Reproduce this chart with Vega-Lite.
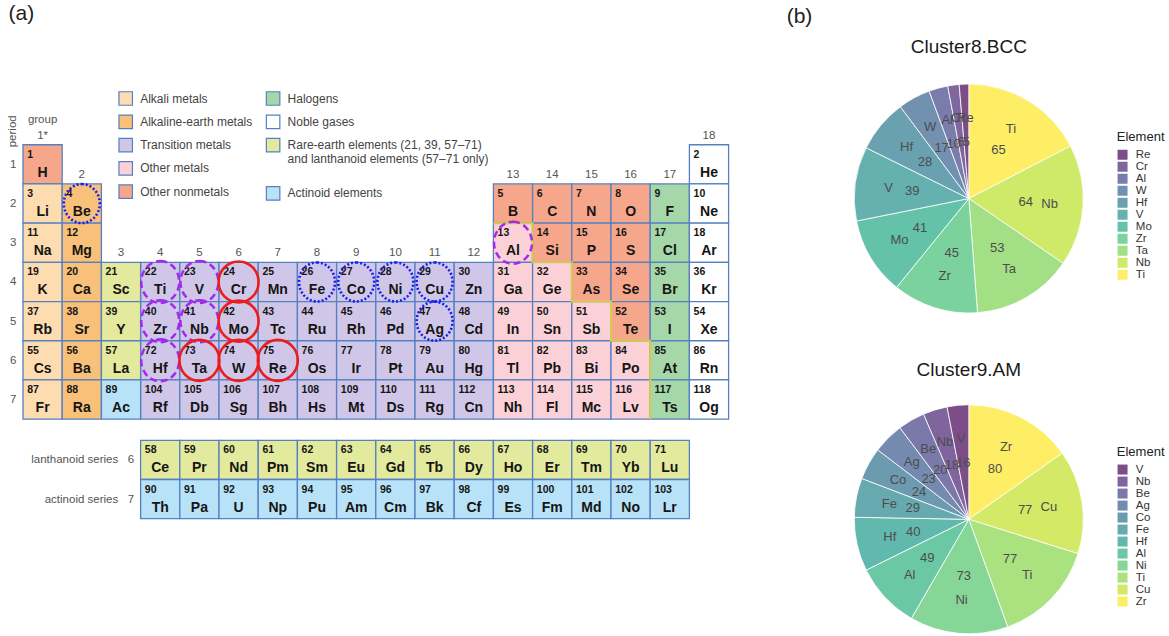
{
  "$schema": "https://vega.github.io/schema/vega-lite/v6.json",
  "background": "white",
  "padding": {"left": 6, "top": 3, "right": 0, "bottom": 0},
  "config": {
    "view": {"stroke": null},
    "font": "Liberation Sans",
    "title": {"font": "Liberation Sans", "fontWeight": "normal", "color": "#1a1a1a"},
    "legend": {"labelFont": "Liberation Sans", "titleFont": "Liberation Sans"},
    "axis": {"labelFont": "Liberation Sans", "titleFont": "Liberation Sans"}
  },
  "datasets": {
    "elements": [
      {"z": 1, "symbol": "H", "group": 1, "period": 1, "category": "Other nonmetals"},
      {"z": 2, "symbol": "He", "group": 18, "period": 1, "category": "Noble gases"},
      {"z": 3, "symbol": "Li", "group": 1, "period": 2, "category": "Alkali metals"},
      {"z": 4, "symbol": "Be", "group": 2, "period": 2, "category": "Alkaline-earth metals"},
      {"z": 5, "symbol": "B", "group": 13, "period": 2, "category": "Other nonmetals"},
      {"z": 6, "symbol": "C", "group": 14, "period": 2, "category": "Other nonmetals"},
      {"z": 7, "symbol": "N", "group": 15, "period": 2, "category": "Other nonmetals"},
      {"z": 8, "symbol": "O", "group": 16, "period": 2, "category": "Other nonmetals"},
      {"z": 9, "symbol": "F", "group": 17, "period": 2, "category": "Halogens"},
      {"z": 10, "symbol": "Ne", "group": 18, "period": 2, "category": "Noble gases"},
      {"z": 11, "symbol": "Na", "group": 1, "period": 3, "category": "Alkali metals"},
      {"z": 12, "symbol": "Mg", "group": 2, "period": 3, "category": "Alkaline-earth metals"},
      {"z": 13, "symbol": "Al", "group": 13, "period": 3, "category": "Other metals"},
      {"z": 14, "symbol": "Si", "group": 14, "period": 3, "category": "Other nonmetals"},
      {"z": 15, "symbol": "P", "group": 15, "period": 3, "category": "Other nonmetals"},
      {"z": 16, "symbol": "S", "group": 16, "period": 3, "category": "Other nonmetals"},
      {"z": 17, "symbol": "Cl", "group": 17, "period": 3, "category": "Halogens"},
      {"z": 18, "symbol": "Ar", "group": 18, "period": 3, "category": "Noble gases"},
      {"z": 19, "symbol": "K", "group": 1, "period": 4, "category": "Alkali metals"},
      {"z": 20, "symbol": "Ca", "group": 2, "period": 4, "category": "Alkaline-earth metals"},
      {"z": 21, "symbol": "Sc", "group": 3, "period": 4, "category": "Rare-earth elements"},
      {"z": 22, "symbol": "Ti", "group": 4, "period": 4, "category": "Transition metals"},
      {"z": 23, "symbol": "V", "group": 5, "period": 4, "category": "Transition metals"},
      {"z": 24, "symbol": "Cr", "group": 6, "period": 4, "category": "Transition metals"},
      {"z": 25, "symbol": "Mn", "group": 7, "period": 4, "category": "Transition metals"},
      {"z": 26, "symbol": "Fe", "group": 8, "period": 4, "category": "Transition metals"},
      {"z": 27, "symbol": "Co", "group": 9, "period": 4, "category": "Transition metals"},
      {"z": 28, "symbol": "Ni", "group": 10, "period": 4, "category": "Transition metals"},
      {"z": 29, "symbol": "Cu", "group": 11, "period": 4, "category": "Transition metals"},
      {"z": 30, "symbol": "Zn", "group": 12, "period": 4, "category": "Transition metals"},
      {"z": 31, "symbol": "Ga", "group": 13, "period": 4, "category": "Other metals"},
      {"z": 32, "symbol": "Ge", "group": 14, "period": 4, "category": "Other metals"},
      {"z": 33, "symbol": "As", "group": 15, "period": 4, "category": "Other nonmetals"},
      {"z": 34, "symbol": "Se", "group": 16, "period": 4, "category": "Other nonmetals"},
      {"z": 35, "symbol": "Br", "group": 17, "period": 4, "category": "Halogens"},
      {"z": 36, "symbol": "Kr", "group": 18, "period": 4, "category": "Noble gases"},
      {"z": 37, "symbol": "Rb", "group": 1, "period": 5, "category": "Alkali metals"},
      {"z": 38, "symbol": "Sr", "group": 2, "period": 5, "category": "Alkaline-earth metals"},
      {"z": 39, "symbol": "Y", "group": 3, "period": 5, "category": "Rare-earth elements"},
      {"z": 40, "symbol": "Zr", "group": 4, "period": 5, "category": "Transition metals"},
      {"z": 41, "symbol": "Nb", "group": 5, "period": 5, "category": "Transition metals"},
      {"z": 42, "symbol": "Mo", "group": 6, "period": 5, "category": "Transition metals"},
      {"z": 43, "symbol": "Tc", "group": 7, "period": 5, "category": "Transition metals"},
      {"z": 44, "symbol": "Ru", "group": 8, "period": 5, "category": "Transition metals"},
      {"z": 45, "symbol": "Rh", "group": 9, "period": 5, "category": "Transition metals"},
      {"z": 46, "symbol": "Pd", "group": 10, "period": 5, "category": "Transition metals"},
      {"z": 47, "symbol": "Ag", "group": 11, "period": 5, "category": "Transition metals"},
      {"z": 48, "symbol": "Cd", "group": 12, "period": 5, "category": "Transition metals"},
      {"z": 49, "symbol": "In", "group": 13, "period": 5, "category": "Other metals"},
      {"z": 50, "symbol": "Sn", "group": 14, "period": 5, "category": "Other metals"},
      {"z": 51, "symbol": "Sb", "group": 15, "period": 5, "category": "Other metals"},
      {"z": 52, "symbol": "Te", "group": 16, "period": 5, "category": "Other nonmetals"},
      {"z": 53, "symbol": "I", "group": 17, "period": 5, "category": "Halogens"},
      {"z": 54, "symbol": "Xe", "group": 18, "period": 5, "category": "Noble gases"},
      {"z": 55, "symbol": "Cs", "group": 1, "period": 6, "category": "Alkali metals"},
      {"z": 56, "symbol": "Ba", "group": 2, "period": 6, "category": "Alkaline-earth metals"},
      {"z": 57, "symbol": "La", "group": 3, "period": 6, "category": "Rare-earth elements"},
      {"z": 72, "symbol": "Hf", "group": 4, "period": 6, "category": "Transition metals"},
      {"z": 73, "symbol": "Ta", "group": 5, "period": 6, "category": "Transition metals"},
      {"z": 74, "symbol": "W", "group": 6, "period": 6, "category": "Transition metals"},
      {"z": 75, "symbol": "Re", "group": 7, "period": 6, "category": "Transition metals"},
      {"z": 76, "symbol": "Os", "group": 8, "period": 6, "category": "Transition metals"},
      {"z": 77, "symbol": "Ir", "group": 9, "period": 6, "category": "Transition metals"},
      {"z": 78, "symbol": "Pt", "group": 10, "period": 6, "category": "Transition metals"},
      {"z": 79, "symbol": "Au", "group": 11, "period": 6, "category": "Transition metals"},
      {"z": 80, "symbol": "Hg", "group": 12, "period": 6, "category": "Transition metals"},
      {"z": 81, "symbol": "Tl", "group": 13, "period": 6, "category": "Other metals"},
      {"z": 82, "symbol": "Pb", "group": 14, "period": 6, "category": "Other metals"},
      {"z": 83, "symbol": "Bi", "group": 15, "period": 6, "category": "Other metals"},
      {"z": 84, "symbol": "Po", "group": 16, "period": 6, "category": "Other metals"},
      {"z": 85, "symbol": "At", "group": 17, "period": 6, "category": "Halogens"},
      {"z": 86, "symbol": "Rn", "group": 18, "period": 6, "category": "Noble gases"},
      {"z": 87, "symbol": "Fr", "group": 1, "period": 7, "category": "Alkali metals"},
      {"z": 88, "symbol": "Ra", "group": 2, "period": 7, "category": "Alkaline-earth metals"},
      {"z": 89, "symbol": "Ac", "group": 3, "period": 7, "category": "Actinoid elements"},
      {"z": 104, "symbol": "Rf", "group": 4, "period": 7, "category": "Transition metals"},
      {"z": 105, "symbol": "Db", "group": 5, "period": 7, "category": "Transition metals"},
      {"z": 106, "symbol": "Sg", "group": 6, "period": 7, "category": "Transition metals"},
      {"z": 107, "symbol": "Bh", "group": 7, "period": 7, "category": "Transition metals"},
      {"z": 108, "symbol": "Hs", "group": 8, "period": 7, "category": "Transition metals"},
      {"z": 109, "symbol": "Mt", "group": 9, "period": 7, "category": "Transition metals"},
      {"z": 110, "symbol": "Ds", "group": 10, "period": 7, "category": "Transition metals"},
      {"z": 111, "symbol": "Rg", "group": 11, "period": 7, "category": "Transition metals"},
      {"z": 112, "symbol": "Cn", "group": 12, "period": 7, "category": "Transition metals"},
      {"z": 113, "symbol": "Nh", "group": 13, "period": 7, "category": "Other metals"},
      {"z": 114, "symbol": "Fl", "group": 14, "period": 7, "category": "Other metals"},
      {"z": 115, "symbol": "Mc", "group": 15, "period": 7, "category": "Other metals"},
      {"z": 116, "symbol": "Lv", "group": 16, "period": 7, "category": "Other metals"},
      {"z": 117, "symbol": "Ts", "group": 17, "period": 7, "category": "Halogens"},
      {"z": 118, "symbol": "Og", "group": 18, "period": 7, "category": "Noble gases"}
    ],
    "fblock": [
      {"z": 58, "symbol": "Ce", "series": "lanthanoid", "category": "Rare-earth elements"},
      {"z": 59, "symbol": "Pr", "series": "lanthanoid", "category": "Rare-earth elements"},
      {"z": 60, "symbol": "Nd", "series": "lanthanoid", "category": "Rare-earth elements"},
      {"z": 61, "symbol": "Pm", "series": "lanthanoid", "category": "Rare-earth elements"},
      {"z": 62, "symbol": "Sm", "series": "lanthanoid", "category": "Rare-earth elements"},
      {"z": 63, "symbol": "Eu", "series": "lanthanoid", "category": "Rare-earth elements"},
      {"z": 64, "symbol": "Gd", "series": "lanthanoid", "category": "Rare-earth elements"},
      {"z": 65, "symbol": "Tb", "series": "lanthanoid", "category": "Rare-earth elements"},
      {"z": 66, "symbol": "Dy", "series": "lanthanoid", "category": "Rare-earth elements"},
      {"z": 67, "symbol": "Ho", "series": "lanthanoid", "category": "Rare-earth elements"},
      {"z": 68, "symbol": "Er", "series": "lanthanoid", "category": "Rare-earth elements"},
      {"z": 69, "symbol": "Tm", "series": "lanthanoid", "category": "Rare-earth elements"},
      {"z": 70, "symbol": "Yb", "series": "lanthanoid", "category": "Rare-earth elements"},
      {"z": 71, "symbol": "Lu", "series": "lanthanoid", "category": "Rare-earth elements"},
      {"z": 90, "symbol": "Th", "series": "actinoid", "category": "Actinoid elements"},
      {"z": 91, "symbol": "Pa", "series": "actinoid", "category": "Actinoid elements"},
      {"z": 92, "symbol": "U", "series": "actinoid", "category": "Actinoid elements"},
      {"z": 93, "symbol": "Np", "series": "actinoid", "category": "Actinoid elements"},
      {"z": 94, "symbol": "Pu", "series": "actinoid", "category": "Actinoid elements"},
      {"z": 95, "symbol": "Am", "series": "actinoid", "category": "Actinoid elements"},
      {"z": 96, "symbol": "Cm", "series": "actinoid", "category": "Actinoid elements"},
      {"z": 97, "symbol": "Bk", "series": "actinoid", "category": "Actinoid elements"},
      {"z": 98, "symbol": "Cf", "series": "actinoid", "category": "Actinoid elements"},
      {"z": 99, "symbol": "Es", "series": "actinoid", "category": "Actinoid elements"},
      {"z": 100, "symbol": "Fm", "series": "actinoid", "category": "Actinoid elements"},
      {"z": 101, "symbol": "Md", "series": "actinoid", "category": "Actinoid elements"},
      {"z": 102, "symbol": "No", "series": "actinoid", "category": "Actinoid elements"},
      {"z": 103, "symbol": "Lr", "series": "actinoid", "category": "Actinoid elements"}
    ],
    "groupLabels": [
      {"group": 1, "label": "1*"}, {"group": 2, "label": "2"}, {"group": 3, "label": "3"},
      {"group": 4, "label": "4"}, {"group": 5, "label": "5"}, {"group": 6, "label": "6"},
      {"group": 7, "label": "7"}, {"group": 8, "label": "8"}, {"group": 9, "label": "9"},
      {"group": 10, "label": "10"}, {"group": 11, "label": "11"}, {"group": 12, "label": "12"},
      {"group": 13, "label": "13"}, {"group": 14, "label": "14"}, {"group": 15, "label": "15"},
      {"group": 16, "label": "16"}, {"group": 17, "label": "17"}, {"group": 18, "label": "18"}
    ],
    "metalloidLine": [
      {"step": 1, "group": 12.5, "period": 2.5},
      {"step": 2, "group": 13.5, "period": 2.5},
      {"step": 3, "group": 13.5, "period": 3.5},
      {"step": 4, "group": 14.5, "period": 3.5},
      {"step": 5, "group": 14.5, "period": 4.5},
      {"step": 6, "group": 15.5, "period": 4.5},
      {"step": 7, "group": 15.5, "period": 5.5},
      {"step": 8, "group": 16.5, "period": 5.5},
      {"step": 9, "group": 16.5, "period": 7.5}
    ],
    "clusters": [
      {"cluster": "Cluster8.BCC", "element": "Ti", "count": 65},
      {"cluster": "Cluster8.BCC", "element": "Nb", "count": 64},
      {"cluster": "Cluster8.BCC", "element": "Ta", "count": 53},
      {"cluster": "Cluster8.BCC", "element": "Zr", "count": 45},
      {"cluster": "Cluster8.BCC", "element": "Mo", "count": 41},
      {"cluster": "Cluster8.BCC", "element": "V", "count": 39},
      {"cluster": "Cluster8.BCC", "element": "Hf", "count": 28},
      {"cluster": "Cluster8.BCC", "element": "W", "count": 17},
      {"cluster": "Cluster8.BCC", "element": "Al", "count": 10},
      {"cluster": "Cluster8.BCC", "element": "Cr", "count": 6},
      {"cluster": "Cluster8.BCC", "element": "Re", "count": 5},
      {"cluster": "Cluster9.AM", "element": "Zr", "count": 80},
      {"cluster": "Cluster9.AM", "element": "Cu", "count": 77},
      {"cluster": "Cluster9.AM", "element": "Ti", "count": 77},
      {"cluster": "Cluster9.AM", "element": "Ni", "count": 73},
      {"cluster": "Cluster9.AM", "element": "Al", "count": 49},
      {"cluster": "Cluster9.AM", "element": "Hf", "count": 40},
      {"cluster": "Cluster9.AM", "element": "Fe", "count": 29},
      {"cluster": "Cluster9.AM", "element": "Co", "count": 24},
      {"cluster": "Cluster9.AM", "element": "Ag", "count": 23},
      {"cluster": "Cluster9.AM", "element": "Be", "count": 20},
      {"cluster": "Cluster9.AM", "element": "Nb", "count": 18},
      {"cluster": "Cluster9.AM", "element": "V", "count": 16}
    ]
  },
  "hconcat": [
    {
      "title": {"text": "(a)", "anchor": "start", "frame": "bounds", "fontSize": 21, "color": "#222", "dx": 2, "offset": 60},
      "bounds": "flush",
      "spacing": 20.3,
      "resolve": {"scale": {"fill": "independent", "color": "independent"}},
      "vconcat": [
        {
          "width": 705.6,
          "height": 335.16,
          "encoding": {
            "x": {"field": "group", "type": "quantitative", "scale": {"domain": [0.5, 18.5], "nice": false, "zero": false}, "axis": null},
            "y": {
              "field": "period", "type": "quantitative",
              "scale": {"domain": [-1.05, 7.5], "reverse": true, "nice": false, "zero": false},
              "axis": {
                "values": [1, 2, 3, 4, 5, 6, 7], "title": "period", "titleX": -10.5, "titleY": 46.8,
                "titleAlign": "center", "titleBaseline": "middle", "titleAngle": -90,
                "titleFontSize": 11.5, "titleFontWeight": "normal", "titleColor": "#555",
                "labelFontSize": 11.5, "labelColor": "#555", "labelPadding": 7,
                "ticks": false, "tickSize": 0, "domain": false, "grid": false
              }
            }
          },
          "layer": [
            {
              "data": {"name": "elements"},
              "transform": [{"filter": {"field": "category", "oneOf": ["Alkali metals", "Alkaline-earth metals", "Transition metals", "Other metals", "Other nonmetals"]}}],
              "mark": {"type": "square", "size": 1536.6, "stroke": "#5580c2", "strokeWidth": 1.3, "opacity": 1},
              "encoding": {
                "fill": {
                  "field": "category", "type": "nominal",
                  "scale": {"domain": ["Alkali metals", "Alkaline-earth metals", "Transition metals", "Other metals", "Other nonmetals"], "range": ["#fddcb0", "#f8c078", "#d0c6e8", "#fbd1d7", "#f6a68a"]},
                  "legend": {
                    "orient": "none", "legendX": 95.2, "legendY": 7, "title": null,
                    "symbolType": "square", "symbolSize": 182, "symbolStrokeColor": "#5580c2", "symbolStrokeWidth": 1.2,
                    "labelFontSize": 12, "labelColor": "#444", "rowPadding": 4.3, "labelOffset": 7, "labelLimit": 300
                  }
                }
              }
            },
            {
              "data": {"name": "elements"},
              "transform": [{"filter": {"field": "category", "oneOf": ["Halogens", "Noble gases", "Rare-earth elements", "Actinoid elements"]}}],
              "mark": {"type": "square", "size": 1536.6, "stroke": "#5580c2", "strokeWidth": 1.3, "opacity": 1},
              "encoding": {
                "color": {
                  "field": "category", "type": "nominal",
                  "scale": {"domain": ["Halogens", "Noble gases", "Rare-earth elements", "Actinoid elements"], "range": ["#a5d7a8", "#ffffff", "#e3e99d", "#b8e2f7"]},
                  "legend": {
                    "orient": "none", "legendX": 242.6, "legendY": 7, "title": null,
                    "symbolType": "square", "symbolSize": 182, "symbolStrokeColor": "#5580c2", "symbolStrokeWidth": 1.2,
                    "labelFontSize": 12, "labelColor": "#444", "rowPadding": 4.3, "labelOffset": 7, "labelLimit": 300,
                    "labelExpr": "datum.label == 'Rare-earth elements' ? ['Rare-earth elements (21, 39, 57–71)', 'and lanthanoid elements (57–71 only)', ''] : datum.label"
                  }
                }
              }
            },
            {
              "data": {"name": "metalloidLine"},
              "mark": {"type": "line", "stroke": "#d6cb4e", "strokeWidth": 2},
              "encoding": {"order": {"field": "step", "type": "quantitative"}}
            },
            {
              "data": {"name": "elements"},
              "mark": {"type": "text", "align": "left", "baseline": "middle", "dx": -15.4, "dy": -9.6, "fontSize": 10.5, "fontWeight": "bold", "color": "#151515"},
              "encoding": {"text": {"field": "z", "type": "nominal"}}
            },
            {
              "data": {"name": "elements"},
              "mark": {"type": "text", "align": "center", "baseline": "middle", "dy": 8.5, "fontSize": 14, "fontWeight": "bold", "color": "#151515"},
              "encoding": {"text": {"field": "symbol", "type": "nominal"}}
            },
            {
              "data": {"name": "elements"},
              "transform": [
                {"aggregate": [{"op": "min", "field": "period", "as": "period"}], "groupby": ["group"]},
                {"lookup": "group", "from": {"data": {"name": "groupLabels"}, "key": "group", "fields": ["label"]}}
              ],
              "mark": {"type": "text", "align": "center", "baseline": "middle", "dy": -28.8, "fontSize": 11.5, "color": "#555"},
              "encoding": {"text": {"field": "label", "type": "nominal"}}
            },
            {
              "data": {"values": [{"group": 1, "period": 1, "heading": "group"}]},
              "mark": {"type": "text", "align": "center", "baseline": "middle", "dy": -44, "fontSize": 11.5, "color": "#555"},
              "encoding": {"text": {"field": "heading", "type": "nominal"}}
            },
            {
              "data": {"name": "clusters"},
              "transform": [
                {"joinaggregate": [{"op": "count", "as": "n"}], "groupby": ["element"]},
                {"filter": "datum.n == 2 && datum.cluster == 'Cluster8.BCC'"},
                {"lookup": "element", "from": {"data": {"name": "elements"}, "key": "symbol", "fields": ["group", "period"]}}
              ],
              "mark": {
                "type": "point", "filled": false, "opacity": 1, "size": 1764,
                "shape": "M0,-1C0.5,-1,0.905,-0.552,0.905,0C0.905,0.552,0.5,1,0,1C-0.5,1,-0.905,0.552,-0.905,0C-0.905,-0.552,-0.5,-1,0,-1Z",
                "stroke": "#a428ee", "strokeWidth": 2.5, "strokeDash": [7, 4]
              }
            },
            {
              "data": {"name": "clusters"},
              "transform": [
                {"joinaggregate": [{"op": "count", "as": "n"}], "groupby": ["element"]},
                {"filter": "datum.n == 1 && datum.cluster == 'Cluster8.BCC'"},
                {"lookup": "element", "from": {"data": {"name": "elements"}, "key": "symbol", "fields": ["group", "period"]}}
              ],
              "mark": {
                "type": "point", "filled": false, "opacity": 1, "size": 1681,
                "shape": "M0,-1C0.539,-1,0.976,-0.552,0.976,0C0.976,0.552,0.539,1,0,1C-0.539,1,-0.976,0.552,-0.976,0C-0.976,-0.552,-0.539,-1,0,-1Z",
                "stroke": "#ec1c1c", "strokeWidth": 2.6
              }
            },
            {
              "data": {"name": "clusters"},
              "transform": [
                {"joinaggregate": [{"op": "count", "as": "n"}], "groupby": ["element"]},
                {"filter": "datum.n == 1 && datum.cluster == 'Cluster9.AM'"},
                {"lookup": "element", "from": {"data": {"name": "elements"}, "key": "symbol", "fields": ["group", "period"]}}
              ],
              "mark": {
                "type": "point", "filled": false, "opacity": 1, "size": 1521,
                "shape": "M0,-1C0.51,-1,0.923,-0.552,0.923,0C0.923,0.552,0.51,1,0,1C-0.51,1,-0.923,0.552,-0.923,0C-0.923,-0.552,-0.51,-1,0,-1Z",
                "stroke": "#1a1ff0", "strokeWidth": 2.6, "strokeDash": [2, 2]
              }
            }
          ]
        },
        {
          "width": 705.6,
          "height": 78.4,
          "data": {"name": "fblock"},
          "transform": [{"window": [{"op": "row_number", "as": "slot"}], "groupby": ["series"], "sort": [{"field": "z"}]}],
          "encoding": {
            "x": {"field": "slot", "type": "quantitative", "scale": {"domain": [-2.5, 15.5], "nice": false, "zero": false}, "axis": null},
            "y": {
              "field": "series", "type": "nominal", "scale": {"domain": ["lanthanoid", "actinoid"]},
              "axis": {
                "title": null, "offset": -117.2, "labelPadding": 6.5, "ticks": false, "tickSize": 0, "domain": false, "grid": false,
                "labelFontSize": 11.5, "labelColor": "#555",
                "labelExpr": "datum.value == 'lanthanoid' ? 'lanthanoid series\u00a0\u00a0\u00a06' : 'actinoid series\u00a0\u00a0\u00a07'"
              }
            }
          },
          "layer": [
            {
              "mark": {"type": "square", "size": 1536.6, "stroke": "#5580c2", "strokeWidth": 1.3, "opacity": 1},
              "encoding": {
                "fill": {
                  "field": "category", "type": "nominal",
                  "scale": {"domain": ["Rare-earth elements", "Actinoid elements"], "range": ["#e3e99d", "#b8e2f7"]},
                  "legend": null
                }
              }
            },
            {
              "mark": {"type": "text", "align": "left", "baseline": "middle", "dx": -15.4, "dy": -9.6, "fontSize": 10.5, "fontWeight": "bold", "color": "#151515"},
              "encoding": {"text": {"field": "z", "type": "nominal"}}
            },
            {
              "mark": {"type": "text", "align": "center", "baseline": "middle", "dy": 8.5, "fontSize": 14, "fontWeight": "bold", "color": "#151515"},
              "encoding": {"text": {"field": "symbol", "type": "nominal"}}
            }
          ]
        }
      ]
    },
    {
      "title": {"text": "(b)", "anchor": "start", "frame": "bounds", "fontSize": 21, "color": "#222", "dx": -66, "offset": 11},
      "bounds": "flush",
      "spacing": 91.8,
      "resolve": {"scale": {"color": "independent", "theta": "independent"}},
      "vconcat": [
        {
          "width": 229,
          "height": 229,
          "title": {"text": "Cluster8.BCC", "fontSize": 19, "frame": "group", "offset": 25},
          "data": {"name": "clusters"},
          "transform": [{"filter": "datum.cluster == 'Cluster8.BCC'"}],
          "encoding": {
            "theta": {"field": "count", "type": "quantitative", "stack": true},
            "order": {"field": "count", "type": "quantitative", "sort": "descending"}
          },
          "layer": [
            {
              "mark": {"type": "arc", "stroke": "white", "strokeWidth": 0.8},
              "encoding": {
                "color": {
                  "field": "element", "type": "nominal",
                  "scale": {
                    "domain": ["Re", "Cr", "Al", "W", "Hf", "V", "Mo", "Zr", "Ta", "Nb", "Ti"],
                    "range": ["#7c4d87", "#7f669f", "#7a7cab", "#7290af", "#6aa1b0", "#64b1af", "#64c2a9", "#7bd29c", "#a2df85", "#cfe968", "#feee66"]
                  },
                  "legend": {
                    "orient": "none", "legendX": 262.5, "legendY": 47, "title": "Element",
                    "titleFontSize": 13, "titleFontWeight": "normal", "titleColor": "#222", "titlePadding": 5,
                    "symbolType": "square", "symbolSize": 100, "symbolStrokeWidth": 0,
                    "labelFontSize": 11.5, "labelColor": "#333", "rowPadding": -3, "labelOffset": 7.5
                  }
                }
              }
            },
            {
              "mark": {"type": "text", "radius": 81, "fontSize": 13, "color": "#4d4d4d"},
              "encoding": {"text": {"field": "element", "type": "nominal"}}
            },
            {
              "mark": {"type": "text", "radius": 57, "fontSize": 13, "color": "#4d4d4d"},
              "encoding": {"text": {"field": "count", "type": "nominal"}}
            }
          ]
        },
        {
          "width": 229,
          "height": 229,
          "title": {"text": "Cluster9.AM", "fontSize": 19, "frame": "group", "offset": 23},
          "data": {"name": "clusters"},
          "transform": [{"filter": "datum.cluster == 'Cluster9.AM'"}],
          "encoding": {
            "theta": {"field": "count", "type": "quantitative", "stack": true},
            "order": {"field": "count", "type": "quantitative", "sort": "descending"}
          },
          "layer": [
            {
              "mark": {"type": "arc", "stroke": "white", "strokeWidth": 0.8},
              "encoding": {
                "color": {
                  "field": "element", "type": "nominal",
                  "scale": {
                    "domain": ["V", "Nb", "Be", "Ag", "Co", "Fe", "Hf", "Al", "Ni", "Ti", "Cu", "Zr"],
                    "range": ["#7c4d87", "#7f649d", "#7b78aa", "#748baf", "#6c9bb0", "#66aab0", "#61b9ad", "#6bc8a5", "#85d697", "#aae280", "#d4e965", "#feee66"]
                  },
                  "legend": {
                    "orient": "none", "legendX": 262.5, "legendY": 41, "title": "Element",
                    "titleFontSize": 13, "titleFontWeight": "normal", "titleColor": "#222", "titlePadding": 5,
                    "symbolType": "square", "symbolSize": 100, "symbolStrokeWidth": 0,
                    "labelFontSize": 11.5, "labelColor": "#333", "rowPadding": -3, "labelOffset": 7.5
                  }
                }
              }
            },
            {
              "mark": {"type": "text", "radius": 81, "fontSize": 13, "color": "#4d4d4d"},
              "encoding": {"text": {"field": "element", "type": "nominal"}}
            },
            {
              "mark": {"type": "text", "radius": 57, "fontSize": 13, "color": "#4d4d4d"},
              "encoding": {"text": {"field": "count", "type": "nominal"}}
            }
          ]
        }
      ]
    }
  ],
  "spacing": 54.3,
  "bounds": "full",
  "resolve": {"scale": {"color": "independent", "fill": "independent", "theta": "independent"}}
}
